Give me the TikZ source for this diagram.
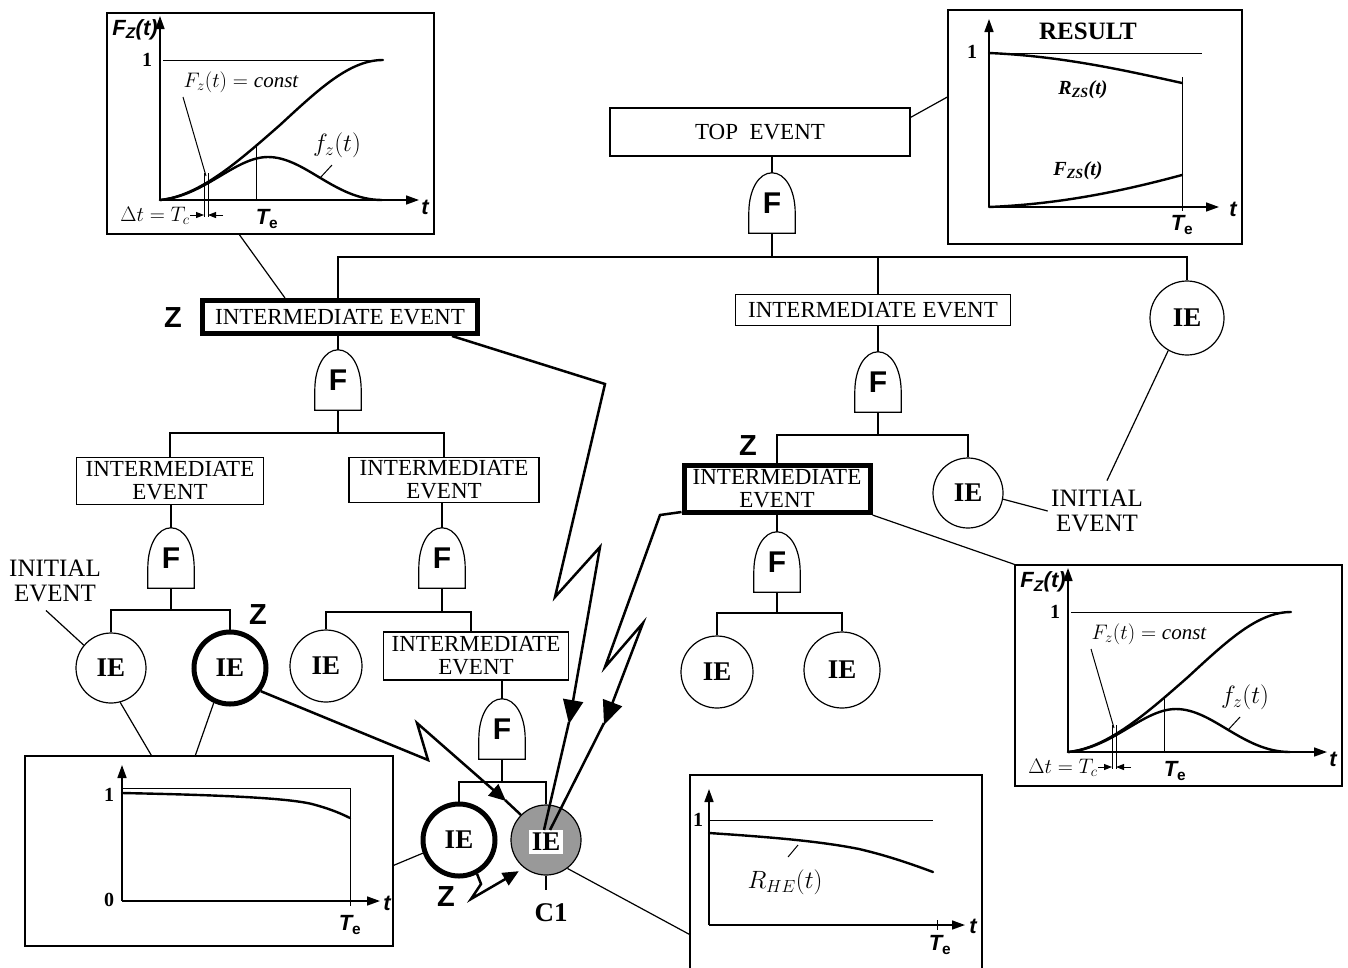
\RequirePackage{fix-cm}
\documentclass[tikz,border=0pt]{standalone}
\usepackage{fontspec}
\setmainfont{Liberation Serif}
\newfontfamily\sansf{Liberation Sans}
\usetikzlibrary{arrows.meta,calc}

% fonts
\newcommand\evfont{\fontsize{23}{23}\selectfont}
\newcommand\initfont{\fontsize{25}{25}\selectfont}
\newcommand\iefont{\bfseries\fontsize{27}{27}\selectfont}
\newcommand\gfont{\sansf\bfseries\fontsize{30}{30}\selectfont}
\newcommand\zfont{\sansf\bfseries\fontsize{29}{29}\selectfont}
\newcommand\axf{\sansf\bfseries\itshape\fontsize{22}{22}\selectfont}
\newcommand\numf{\bfseries\fontsize{20}{20}\selectfont}
\newcommand\mathf{\fontsize{21}{21}\selectfont}
\newcommand\mathbig{\fontsize{25}{25}\selectfont}
\newcommand\resf{\bfseries\fontsize{25}{25}\selectfont}
\newcommand\rzf{\bfseries\itshape\fontsize{20}{20}\selectfont}

\tikzset{
  link/.style={line width=1.2pt},
  ev/.style={draw, line width=1.2pt, inner sep=2pt, font=\evfont, align=center},
  evthick/.style={ev, line width=5pt},
  ie/.style={circle, draw, line width=1.2pt, font=\iefont, inner sep=0pt},
  iethick/.style={line width=5pt},
  gatebox/.style={minimum width=46pt, minimum height=60pt, inner sep=0pt, font=\gfont},
  zlabel/.style={font=\zfont},
  bolt/.style={line width=2.5pt, line join=miter},
  chartframe/.style={draw, line width=1.3pt, inner sep=0pt},
  chartaxis/.style={line width=1.6pt, -{Triangle[length=13pt,width=9pt]}},
  thinl/.style={line width=1pt},
  plotcurve/.style={line width=2.4pt, line cap=round},
  tickarrow/.style={line width=1pt, -{Triangle[length=8pt,width=6pt]}},
}

% AND-type gate: flat base, straight sides, rounded top, letter F inside
\newcommand\gatenode[2]{%
  \node[gatebox] (#1) at (#2) {F};
  \draw[link] (#1.south west) -- ++(0,-20)
    .. controls +(0,-24) and +(-13,0) .. (#1.north)
    .. controls +(13,0) and +(0,-24) .. ($(#1.south east)+(0,-20)$)
    -- (#1.south east) -- cycle;
}

% distribution chart F_z(t), f_z(t), drawn about its axis origin
\newcommand\fzchart[1]{%
  \node[chartframe, minimum width=327pt, minimum height=221pt] (#1) at (110.5,-76.5) {};
  \draw[chartaxis] (0,0) -- (0,-184);
  \draw[chartaxis] (0,0) -- (259,0);
  \node[font=\numf] (#1-one) at (-13,-140) {1};
  \draw[thinl] (3,-140) -- (223,-140);
  \draw[plotcurve] (0,0) .. controls (40,-4) and (80,-40) .. (120,-75)
                   .. controls (160,-112) and (190,-140) .. (223,-140);
  \draw[plotcurve] (0,0) .. controls (45,-4) and (75,-43) .. (108,-43)
                   .. controls (145,-43) and (175,0) .. (222,0);
  \draw[thinl] (96,0) -- (96,-55);
  \draw[thinl] (44,-27) -- (44,17) (48,-27) -- (48,17);
  \draw[tickarrow] (30,15) -- (44,15);
  \draw[tickarrow] (63,15) -- (48,15);
  \node[font=\mathf, anchor=east] (#1-dt) at (33,16) {$\Delta t = T_c$};
  \node[font=\axf] (#1-te) at (107,19) {T\textsubscript{\upshape e}};
  \node[font=\axf] (#1-t) at (265,7) {t};
  \node[font=\axf] (#1-fz) at (-25,-170) {F\textsubscript{Z}(t)};
  \node[font=\mathf] (#1-const) at (81,-118) {$F_z\bigl(t\bigr) = \mathit{const}$};
  \draw[thinl] (23,-103) -- (46,-24);
  \node[font=\mathbig] (#1-dens) at (177,-55) {$f_z\bigl(t\bigr)$};
  \draw[thinl] (172,-35) -- (160,-22);
}

\begin{document}
\begin{tikzpicture}[x=1pt,y=-1pt]
\useasboundingbox (0,0) rectangle (1348,967);

% ---------------- events ----------------
\node[ev, minimum width=300pt, minimum height=48pt] (top) at (760,132) {TOP\enspace EVENT};
\node[evthick, minimum width=275pt, minimum height=33pt] (zA) at (340,317) {INTERMEDIATE EVENT};
\node[ev, minimum width=275pt, minimum height=31pt] (iB) at (873,310) {INTERMEDIATE EVENT};
\node[ev, minimum width=187pt, minimum height=47pt] (iC) at (170,481) {INTERMEDIATE\\EVENT};
\node[ev, minimum width=190pt, minimum height=45pt] (iD) at (444,480) {INTERMEDIATE\\EVENT};
\node[ev, minimum width=185pt, minimum height=48pt] (iE) at (476,656) {INTERMEDIATE\\EVENT};
\node[evthick, minimum width=186pt, minimum height=47pt] (zB) at (777,489) {INTERMEDIATE\\EVENT};

% ---------------- gates ----------------
\gatenode{g1}{772,203}
\gatenode{g2}{338,380}
\gatenode{g3}{878,382}
\gatenode{g4}{171,558}
\gatenode{g5}{442,558}
\gatenode{g6}{777,562}
\gatenode{g7}{502,729}

% ---------------- initial events ----------------
\node[ie, minimum size=74pt] (ieTR) at (1187,318) {IE};
\node[ie, minimum size=70pt] (ieR) at (968,493) {IE};
\node[ie, minimum size=70pt] (ieA) at (111,668) {IE};
\node[ie, iethick, minimum size=72pt] (ieB) at (230,668) {IE};
\node[ie, minimum size=72pt] (ieC) at (326,666) {IE};
\node[ie, iethick, minimum size=72pt] (ieD) at (459,840) {IE};
\node[ie, fill=black!40, minimum size=70pt] (ieG) at (546,840) {};
\node[font=\iefont, fill=white, inner sep=3pt] (ieGt) at (546,842) {IE};
\node[ie, minimum size=72pt] (ieE) at (717,672) {IE};
\node[ie, minimum size=76pt] (ieF) at (842,670) {IE};

% ---------------- labels ----------------
\node[zlabel] (z1) at (173,318) {Z};
\node[zlabel] (z2) at (258,615) {Z};
\node[zlabel] (z3) at (748,446) {Z};
\node[zlabel] (z4) at (446,897) {Z};
\node[font=\iefont] (c1) at (551,913) {C1};
\node[font=\initfont, align=center] (initL) at (55,581) {INITIAL\\EVENT};
\node[font=\initfont, align=center] (initR) at (1097,511) {INITIAL\\EVENT};

% ---------------- bus levels ----------------
\coordinate (busTop) at (0,257);
\coordinate (busZ) at (0,433);
\coordinate (busC) at (0,610);
\coordinate (busD) at (0,612);
\coordinate (busG) at (0,782);
\coordinate (busB) at (0,435);
\coordinate (busF) at (0,613);

% ---------------- tree connectors ----------------
\draw[link] (g1.north) -- (g1 |- top.south);
\draw[link] (g1.south) -- (g1 |- busTop);
\draw[link] (g2 |- zA.north) -- (g2 |- busTop) -| (ieTR.north);
\draw[link] (g3 |- iB.north) -- (g3 |- busTop);

\draw[link] (g2.north) -- (g2 |- zA.south);
\draw[link] (g2.south) -- (g2 |- busZ);
\draw[link] (iC.north) |- (g2 |- busZ) -| (iD.north);

\draw[link] (g4.north) -- (g4 |- iC.south);
\draw[link] (g4.south) -- (g4 |- busC);
\draw[link] (ieA.north) |- (g4 |- busC) -| (ieB.north);

\draw[link] (g5.north) -- (g5 |- iD.south);
\draw[link] (g5.south) -- (g5 |- busD);
\draw[link] (ieC.north) |- (g5 |- busD) -| ($(iE.north)+(-5,0)$);

\draw[link] (g7.north) -- (g7 |- iE.south);
\draw[link] (g7.south) -- (g7 |- busG);
\draw[link] (ieD.north) |- (g7 |- busG) -| (ieG.north);
\draw[link] (ieG.south) -- ++(0,14);

\draw[link] (g3.north) -- (g3 |- iB.south);
\draw[link] (g3.south) -- (g3 |- busB);
\draw[link] (zB.north) |- (g3 |- busB) -| (ieR.north);

\draw[link] (g6.north) -- (g6 |- zB.south);
\draw[link] (g6.south) -- (g6 |- busF);
\draw[link] (ieE.north) |- (g6 |- busF) -| (ieF.north);

% label leaders
\draw[link] ($(initL.south)+(-9,5)$) -- (ieA.140);
\draw[link] (ieR.-10) -- (initR.west);
\draw[link] ($(initR.north)+(10,-6)$) -- (ieTR.240);

% ---------------- charts ----------------
\begin{scope}[shift={(160,200)}]
  \fzchart{chTL}
\end{scope}
\begin{scope}[shift={(1068,752)}]
  \fzchart{chR}
\end{scope}

% resulting reliability / unreliability
\begin{scope}[shift={(989,207)}]
  \node[chartframe, minimum width=294pt, minimum height=234pt] (chTR) at (106,-80) {};
  \draw[chartaxis] (0,0) -- (0,-188);
  \draw[chartaxis] (0,0) -- (230,0);
  \node[font=\numf] (chTR-one) at (-17,-155) {1};
  \draw[thinl] (0,-154) -- (213,-154);
  \draw[plotcurve] (0,-154) .. controls (70,-151) and (130,-138) .. (193,-124);
  \draw[thinl] (193,-130) -- (193,4);
  \draw[plotcurve] (0,0) .. controls (70,-3) and (130,-15) .. (193,-32);
  \node[font=\resf] (chTR-res) at (99,-176) {RESULT};
  \node[font=\rzf] (chTR-r) at (94,-117) {R\textsubscript{ZS}(t)};
  \node[font=\rzf] (chTR-f) at (89,-36) {F\textsubscript{ZS}(t)};
  \node[font=\axf] (chTR-te) at (193,18) {T\textsubscript{\upshape e}};
  \node[font=\axf] (chTR-t) at (244,2) {t};
\end{scope}

% reliability of the initial events
\begin{scope}[shift={(122,901)}]
  \node[chartframe, minimum width=368pt, minimum height=190pt] (chBL) at (87,-50) {};
  \draw[chartaxis] (0,0) -- (0,-136);
  \draw[chartaxis] (0,0) -- (258,0);
  \node[font=\numf] (chBL-one) at (-13,-106) {1};
  \node[font=\numf] (chBL-zero) at (-13,-1) {0};
  \draw[thinl] (0,-113) -- (228,-113) -- (228,5);
  \draw[plotcurve] (0,-108) .. controls (100,-106) and (165,-103) .. (190,-97)
                   .. controls (205,-93) and (216,-89) .. (228,-83);
  \node[font=\axf] (chBL-te) at (228,24) {T\textsubscript{\upshape e}};
  \node[font=\axf] (chBL-t) at (265,2) {t};
\end{scope}

% human error reliability
\begin{scope}[shift={(709,925)}]
  \node[chartframe, minimum width=292pt, minimum height=210pt] (chBM) at (127,-45) {};
  \draw[chartaxis] (0,0) -- (0,-136);
  \draw[chartaxis] (0,0) -- (256,0);
  \node[font=\numf] (chBM-one) at (-11,-105) {1};
  \draw[thinl] (0,-105) -- (224,-105);
  \draw[plotcurve] (0,-92) .. controls (60,-88) and (110,-84) .. (150,-76)
                   .. controls (180,-69) and (205,-60) .. (224,-53);
  \draw[thinl] (228,-5) -- (228,5);
  \node[font=\mathbig] (chBM-r) at (76,-43) {$R_{HE}\bigl(t\bigr)$};
  \draw[thinl] (79,-68) -- (89,-80);
  \node[font=\axf] (chBM-te) at (231,20) {T\textsubscript{\upshape e}};
  \node[font=\axf] (chBM-t) at (264,1) {t};
\end{scope}

% chart leaders
\draw[link] ($(chTL.south west)+(133,0)$) -- ($(zA.north west)+(85,0)$);
\draw[link] ($(top.north east)+(0,10)$) -- ($(chTR.west)+(0,-30)$);
\draw[link] (zB.south east) -- (chR.north west);
\draw[link] (ieA.-75) -- ($(chBL.north west)+(127,0)$);
\draw[link] (ieB.-115) -- ($(chBL.north west)+(171,0)$);
\draw[link] ($(chBL.north east)+(0,110)$) -- (ieD.200);
\draw[link] (ieG.-53) -- ($(chBM.north west)+(0,160)$);

% ---------------- propagation bolts ----------------
\draw[bolt, -{Triangle[length=24pt,width=20pt]}]
  ($(zA.south east)+(-28,0)$) -- (605,384) -- (555,597) -- (600,547) -- (569,724);
\draw[bolt] (569,722) -- ($(ieGt.north)+(-2,0)$);

\draw[bolt, -{Triangle[length=24pt,width=20pt]}]
  ($(zB.south west)+(0,-3)$) -- (660,515) -- (605,667) -- (643,623) -- (604,725);
\draw[bolt] (604,723) -- ($(ieGt.north)+(4,0)$);

\draw[bolt, -{Triangle[length=17pt,width=15pt]}]
  (ieB.-37) -- (428,760) -- (417,723) -- (506,801);
\draw[bolt] (505,800) -- (ieG.135);

\draw[bolt, -{Triangle[length=16pt,width=14pt]}]
  (ieD.-62) -- (481,884) -- (471,899) -- ($(ieG.225)+(-2,6)$);

\end{tikzpicture}
\end{document}
